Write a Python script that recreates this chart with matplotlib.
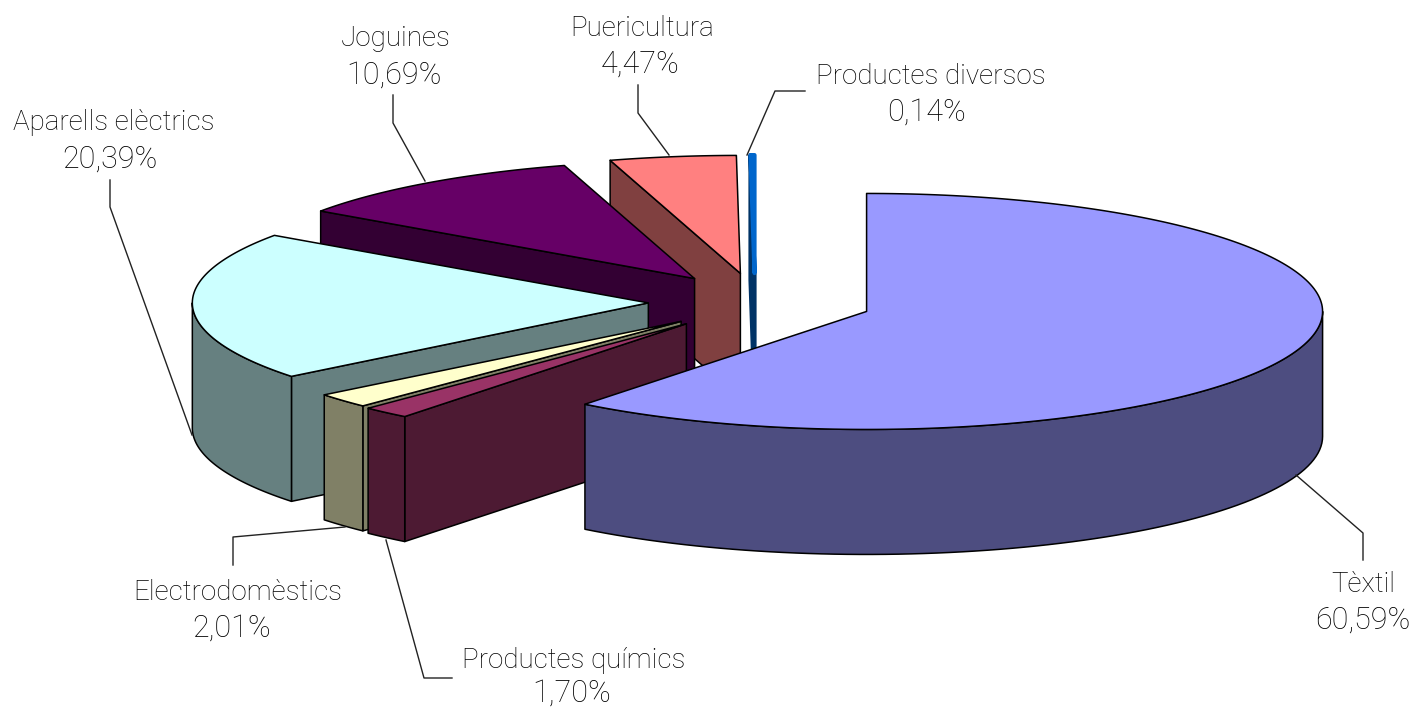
import numpy as np
import matplotlib
matplotlib.use("Agg")
import matplotlib.pyplot as plt
from matplotlib.patches import Polygon

# data, clockwise from 12 o'clock
labels = ["Tèxtil", "Productes químics", "Electrodomèstics", "Aparells elèctrics",
          "Joguines", "Puericultura", "Productes diversos"]
values = [60.59, 1.70, 2.01, 20.39, 10.69, 4.47, 0.14]
pct_text = ["60,59%", "1,70%", "2,01%", "20,39%", "10,69%", "4,47%", "0,14%"]
top_colors = ["#9999FF", "#993366", "#FFFFCC", "#CCFFFF", "#660066", "#FF8080", "#0066CC"]
side_colors = ["#4D4D80", "#4D1A33", "#808066", "#668080", "#330033", "#804040", "#003366"]

# pie geometry in pixels
cx, cy = 760, 302
rx, ry = 456, 118
depth = 125
explode = 0.245
# small per slice corrections of the explode offset
nudge_x = [1, 0, 4, 0, 0, -3, -5]

# label centres (name, percent) and leader lines
name_pos = [(1363, 584), (574, 660), (238, 592), (114, 122), (396, 38), (642, 29), (931, 77)]
pct_pos = [(1363, 620), (572, 693), (232, 628), (110, 159), (394, 75), (640, 64), (927, 112)]
leaders = [
    [(1363, 560), (1363, 533), (1296, 475)],
    [(452, 678), (424, 678), (386, 540)],
    [(233, 565), (233, 537), (345, 527)],
    [(110, 180), (110, 207), (192, 435)],
    [(393, 95), (393, 123), (425, 181)],
    [(638, 85), (638, 113), (669, 155)],
    [(805, 91), (775, 91), (747, 155)],
]

plt.rcParams["font.family"] = ["Roboto", "DejaVu Sans"]
fig = plt.figure(figsize=(14.25, 7.07), dpi=100)
ax = fig.add_axes([0, 0, 1, 1])
ax.set_xlim(0, 1425)
ax.set_ylim(707, 0)
ax.axis("off")


def pt(a, ox, oy, dz=0):
    return ox + rx * np.sin(a), oy - ry * np.cos(a) + dz


def draw_wedge(a1, a2, top, side, shift, edge="black", lw=1.1):
    mid = (a1 + a2) / 2
    ox = cx + explode * rx * np.sin(mid) + shift
    oy = cy - explode * ry * np.cos(mid)
    # cut faces that look at the viewer
    for a, visible in ((a1, np.sin(a1) < 0), (a2, np.sin(a2) > 0)):
        if visible:
            x, y = pt(a, ox, oy)
            ax.add_patch(Polygon([(ox, oy), (x, y), (x, y + depth), (ox, oy + depth)],
                                 fc=side, ec=side if edge != "black" else edge, lw=lw,
                                 joinstyle="round"))
    # outer rim, front half only
    s1, s2 = max(a1, np.pi / 2), min(a2, 3 * np.pi / 2)
    if s2 > s1:
        t = np.linspace(s1, s2, 80)
        x, y = pt(t, ox, oy)
        verts = list(zip(x, y)) + list(zip(x[::-1], y[::-1] + depth))
        ax.add_patch(Polygon(verts, fc=side, ec="black", lw=1.1, joinstyle="round"))
    # top
    t = np.linspace(a1, a2, 200)
    x, y = pt(t, ox, oy)
    ax.add_patch(Polygon([(ox, oy)] + list(zip(x, y)), fc=top, ec=edge, lw=lw,
                         joinstyle="round"))


edges = np.radians(np.concatenate([[0], np.cumsum(values)]) / np.sum(values) * 360)

# back slices first, the big one last
for i in [6, 5, 4, 3, 2, 1, 0]:
    if i == 6:
        # the sliver is only a few pixels wide, the blue has to stay visible
        draw_wedge(edges[i], edges[i + 1], top_colors[i], side_colors[i], nudge_x[i],
                   edge=top_colors[i], lw=3)
    else:
        draw_wedge(edges[i], edges[i + 1], top_colors[i], side_colors[i], nudge_x[i])

for i in range(len(labels)):
    xs, ys = zip(*leaders[i])
    ax.plot(xs, ys, color="#222222", lw=1)
    ax.text(name_pos[i][0], name_pos[i][1], labels[i], ha="center", va="center",
            fontsize=20, color="#000000", fontweight="light")
    ax.text(pct_pos[i][0], pct_pos[i][1], pct_text[i], ha="center", va="center",
            fontsize=22, color="#000000", fontweight="light")

fig.savefig("out.png", dpi=100)
